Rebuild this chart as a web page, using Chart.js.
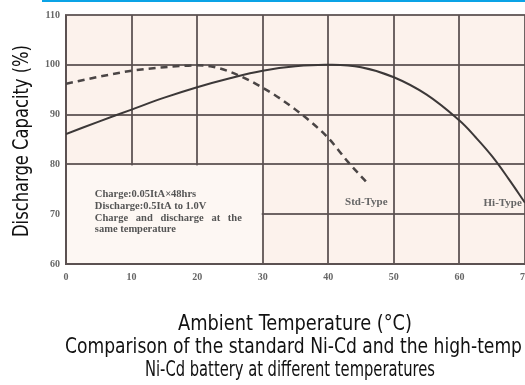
<!DOCTYPE html>
<html>
<head>
<meta charset="utf-8">
<script src="https://cdn.jsdelivr.net/npm/chart.js@4"></script>
<style>
  html, body { margin: 0; padding: 0; background: #fff; }
  #wrap { width: 525px; height: 385px; }
</style>
</head>
<body>
<div id="wrap"><canvas id="chart" width="525" height="385"></canvas></div>
<script>
// data
const temps = [0, 5, 10, 15, 20, 25, 30, 35, 40, 45, 50, 55, 60, 62.5, 65, 67.5, 70];
const hiType = [86.1, 88.6, 91.0, 93.4, 95.5, 97.3, 98.8, 99.7, 100, 99.5, 97.5, 94.0, 88.8, 85.4, 81.6, 77.1, 72.3];
const stdTemps = [0, 5, 10, 15, 20, 22, 25, 30, 35, 40, 43, 46];
const stdType = [96.2, 97.6, 98.8, 99.5, 99.9, 99.7, 98.6, 95.4, 91.0, 85.3, 80.5, 76.2];
const xTicks = [0, 10, 20, 30, 40, 50, 60, 70];
const yTicks = [60, 70, 80, 90, 100, 110];
const noteLines = ["Charge:0.05ItA\u00d748hrs", "Discharge:0.5ItA to 1.0V", "Charge and discharge at the", "same temperature"];
const yTitle = "Discharge Capacity (%)";
const xTitle = "Ambient Temperature (\u00b0C)";
const caption = ["Comparison of the standard Ni-Cd and the high-temp", "Ni-Cd battery at different temperatures"];

const titleFont = '"Liberation Sans Narrow", "DejaVu Sans Condensed", sans-serif';
const smallFont = '"Liberation Serif", "DejaVu Serif", serif';
const gridColor = "rgba(90, 80, 80, 0.88)";

// spread the words of a line over a given width
function justify(ctx, text, x, y, width) {
    const words = text.split(" ");
    const used = words.reduce((s, w) => s + ctx.measureText(w).width, 0);
    const gap = (width - used) / (words.length - 1);
    words.forEach(w => {
        ctx.fillText(w, x, y);
        x += ctx.measureText(w).width + gap;
    });
}

const extras = {
    id: "extras",
    beforeDraw(chart) {
        const ctx = chart.ctx;
        const a = chart.chartArea;
        ctx.save();
        ctx.fillStyle = "#0aa3e6";
        ctx.fillRect(42, 0, 483, 2);
        ctx.fillStyle = "#fcf2ec";
        ctx.fillRect(a.left, a.top, a.right - a.left, a.bottom - a.top);
        ctx.restore();
    },
    beforeDatasetsDraw(chart) {
        // the note box has no grid inside it
        const ctx = chart.ctx;
        const x = chart.scales.x, y = chart.scales.y;
        const l = x.getPixelForValue(0) + 1, r = x.getPixelForValue(30) - 1;
        const t = y.getPixelForValue(80) + 1, b = y.getPixelForValue(60) - 1;
        ctx.save();
        ctx.fillStyle = "#fdf7f3";
        ctx.fillRect(l, t, r - l, b - t);
        ctx.restore();
    },
    afterDatasetsDraw(chart) {
        const ctx = chart.ctx;
        const x = chart.scales.x, y = chart.scales.y;
        ctx.save();
        ctx.fillStyle = "#555";
        ctx.font = "bold 10.5px " + smallFont;
        ctx.textBaseline = "middle";
        ctx.textAlign = "left";
        const nx = x.getPixelForValue(4.4);
        let ny = y.getPixelForValue(74);
        noteLines.forEach((line, i) => {
            if (i === 2) justify(ctx, line, nx, ny, 147);
            else ctx.fillText(line, nx, ny);
            ny += 11.8;
        });
        ctx.font = "bold 11px " + smallFont;
        ctx.fillStyle = "#666";
        ctx.textAlign = "center";
        ctx.fillText("Std-Type", x.getPixelForValue(45.8), y.getPixelForValue(72.4));
        ctx.fillText("Hi-Type", x.getPixelForValue(66.6), y.getPixelForValue(72.2));
        ctx.restore();
    },
    afterDraw(chart) {
        // axis titles and caption, tall narrow type
        const ctx = chart.ctx;
        ctx.save();
        ctx.fillStyle = "#111";
        ctx.font = "22px " + titleFont;
        ctx.textAlign = "center";
        ctx.textBaseline = "middle";
        ctx.fillText(xTitle, 295, 324, 234);
        ctx.fillText(caption[0], 293.5, 347, 457);
        ctx.fillText(caption[1], 290, 370, 290);
        ctx.translate(22, 141);
        ctx.rotate(-Math.PI / 2);
        ctx.fillText(yTitle, 0, 0, 192);
        ctx.restore();
    }
};

new Chart(document.getElementById("chart"), {
    type: "line",
    data: {
        datasets: [{
            label: "Hi-Type",
            data: temps.map((t, i) => ({ x: t, y: hiType[i] })),
            borderColor: "#3c3838",
            borderWidth: 2,
            pointRadius: 0,
            tension: 0.4,
            fill: false
        }, {
            label: "Std-Type",
            data: stdTemps.map((t, i) => ({ x: t, y: stdType[i] })),
            borderColor: "#4a4545",
            borderWidth: 2.5,
            borderDash: [7, 5],
            pointRadius: 0,
            cubicInterpolationMode: "monotone",
            fill: false
        }]
    },
    options: {
        responsive: false,
        animation: false,
        layout: { padding: { top: 15, right: 0, bottom: 0, left: 0 } },
        plugins: {
            legend: { display: false },
            tooltip: { enabled: false },
            title: { display: false }
        },
        scales: {
            x: {
                type: "linear",
                min: 0,
                max: 70,
                afterBuildTicks: s => { s.ticks = xTicks.map(v => ({ value: v })); },
                afterFit: s => { s.height = 121; s.paddingLeft = 0; s.paddingRight = 0; },
                ticks: {
                    padding: 7,
                    color: "#666",
                    font: { family: smallFont, size: 10, weight: "bold" }
                },
                grid: { color: gridColor, lineWidth: 2, drawTicks: false },
                border: { color: gridColor, width: 2 }
            },
            y: {
                min: 60,
                max: 110,
                afterBuildTicks: s => { s.ticks = yTicks.map(v => ({ value: v })); },
                afterFit: s => { s.width = 66; s.paddingTop = 0; s.paddingBottom = 0; },
                ticks: {
                    padding: 6,
                    color: "#666",
                    font: { family: smallFont, size: 10, weight: "bold" }
                },
                grid: { color: gridColor, lineWidth: 2, drawTicks: false },
                border: { color: gridColor, width: 2 }
            }
        }
    },
    plugins: [extras]
});
</script>
</body>
</html>
